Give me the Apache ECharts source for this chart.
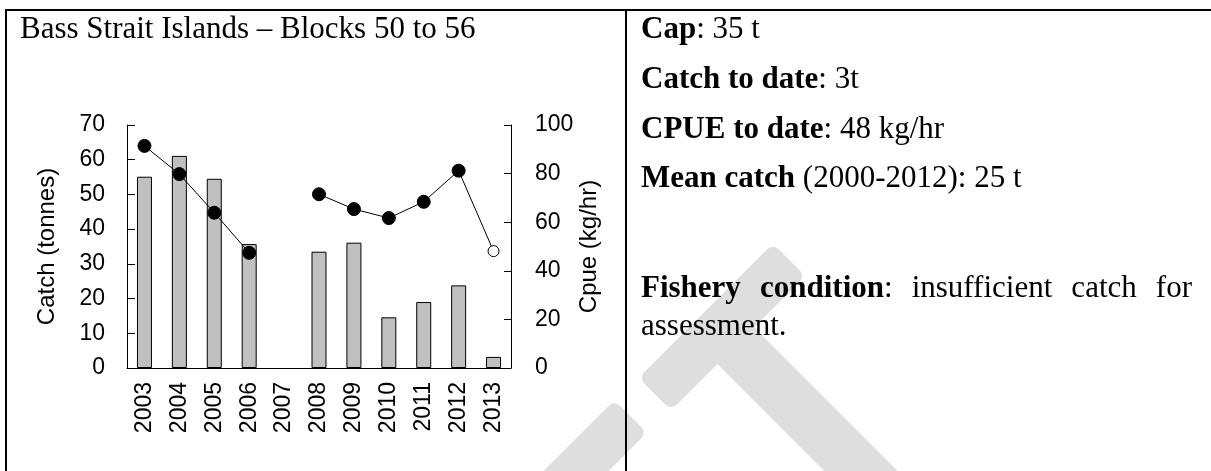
<!DOCTYPE html>
<html>
<head>
<meta charset="utf-8">
<script src="https://cdn.jsdelivr.net/npm/echarts@6/dist/echarts.min.js"></script>
<style>
  html, body { margin: 0; padding: 0; background: #fff; }
  #wrap { position: relative; width: 1211px; height: 471px; overflow: hidden; }
  #chart { position: absolute; left: 0; top: 0; width: 1211px; height: 471px; }
  .ov { position: absolute; pointer-events: none; font-family: "Liberation Serif", "Times New Roman", serif; color: #000; white-space: nowrap; }
  .rt { font-size: 31px; line-height: 31px; }
  .line { position: absolute; background: #000; }
  b { font-weight: bold; }
</style>
</head>
<body>
<div id="wrap">
  <div id="chart"></div>
  <div class="line" style="left:5px;top:9px;width:1206px;height:2px;"></div>
  <div class="line" style="left:5px;top:9px;width:2px;height:462px;"></div>
  <div class="line" style="left:625px;top:9px;width:2px;height:462px;"></div>
  <div class="ov rt" style="left:20px;top:12px;">Bass Strait Islands – Blocks 50 to 56</div>
  <div class="ov rt" style="left:641px;top:12px;"><b>Cap</b>: 35 t</div>
  <div class="ov rt" style="left:641px;top:62px;"><b>Catch to date</b>: 3t</div>
  <div class="ov rt" style="left:641px;top:112px;"><b>CPUE to date</b>: 48 kg/hr</div>
  <div class="ov rt" style="left:641px;top:161px;"><b>Mean catch</b> (2000-2012): 25 t</div>
  <div class="ov rt" style="left:641px;top:271px;width:551px;text-align:justify;text-align-last:justify;"><b>Fishery condition</b>: insufficient catch for</div>
  <div class="ov rt" style="left:641px;top:309px;">assessment.</div>
</div>
<script>
const years = ['2003','2004','2005','2006','2007','2008','2009','2010','2011','2012','2013'];
const catchTonnes = [55.1, 61.1, 54.5, 35.7, null, 33.5, 36.1, 14.6, 19.0, 23.8, 3.2];
const cpue = [91.4, 79.8, 63.9, 47.4, null, 71.5, 65.4, 61.7, 68.4, 81.2, 48.1];
const provisionalIndex = 10;
const leftTicks = { min: 0, max: 70, interval: 10 };
const rightTicks = { min: 0, max: 100, interval: 20 };

const chart = echarts.init(document.getElementById('chart'), null, { renderer: 'canvas' });
const wm = '#dedede';
const font = 'Liberation Sans, Arial, sans-serif';
const cpueData = cpue.map((v, i) => i === provisionalIndex
  ? { value: v, symbolSize: 11, itemStyle: { color: '#fff', borderColor: '#000', borderWidth: 1 } }
  : v);
chart.setOption({
  animation: false,
  backgroundColor: '#fff',
  graphic: [
    { type: 'rect', z: -10, x: 722, y: 327, rotation: Math.PI / 4,
      shape: { x: -95, y: -23, width: 190, height: 46, r: 8 }, style: { fill: wm } },
    { type: 'rect', z: -10, x: 812, y: 422, rotation: -Math.PI / 4,
      shape: { x: -130, y: -26, width: 260, height: 52, r: 8 }, style: { fill: wm } },
    { type: 'rect', z: -10, x: 560, y: 487, rotation: Math.PI / 4,
      shape: { x: -100, y: -23, width: 200, height: 46, r: 8 }, style: { fill: wm } }
  ],
  grid: { left: 127, top: 125, width: 384, height: 243, containLabel: false },
  xAxis: {
    type: 'category', data: years,
    axisLine: { lineStyle: { color: '#000', width: 1 } },
    axisTick: { inside: true, length: 6, lineStyle: { color: '#000' } },
    axisLabel: { rotate: 90, margin: 14, fontSize: 23, color: '#000', fontFamily: font }
  },
  yAxis: [
    {
      type: 'value', min: leftTicks.min, max: leftTicks.max, interval: leftTicks.interval,
      name: 'Catch (tonnes)', nameLocation: 'middle', nameGap: 68, nameRotate: 90,
      nameTextStyle: { fontSize: 24, color: '#000', fontFamily: font },
      axisLine: { show: true, lineStyle: { color: '#000', width: 1 } },
      axisTick: { show: true, inside: true, length: 8, lineStyle: { color: '#000' } },
      axisLabel: { margin: 22, fontSize: 23, color: '#000', fontFamily: font },
      splitLine: { show: false }
    },
    {
      type: 'value', position: 'right', min: rightTicks.min, max: rightTicks.max, interval: rightTicks.interval,
      name: 'Cpue (kg/hr)', nameLocation: 'middle', nameGap: 55, nameRotate: 90,
      nameTextStyle: { fontSize: 24, color: '#000', fontFamily: font },
      axisLine: { show: true, lineStyle: { color: '#000', width: 1 } },
      axisTick: { show: true, inside: true, length: 7, lineStyle: { color: '#000' } },
      axisLabel: { margin: 24, fontSize: 23, color: '#000', fontFamily: font },
      splitLine: { show: false }
    }
  ],
  series: [
    {
      type: 'bar', data: catchTonnes, yAxisIndex: 0, barWidth: 15,
      itemStyle: { color: '#c0c0c0', borderColor: '#000', borderWidth: 1 }
    },
    {
      type: 'line', data: cpueData, yAxisIndex: 1, connectNulls: false,
      symbol: 'circle', symbolSize: 13,
      lineStyle: { color: '#000', width: 1 },
      itemStyle: { color: '#000', borderColor: '#000' }
    }
  ]
});
</script>
</body>
</html>
